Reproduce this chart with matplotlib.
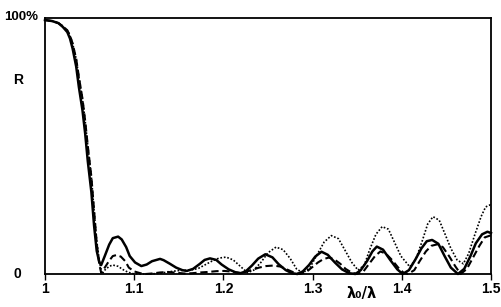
import matplotlib
matplotlib.use("Agg")
import matplotlib.pyplot as plt

plt.rcParams['font.family'] = ['Liberation Sans', 'DejaVu Sans']

# steep edge of the stop band (solid curve)
drop_x = [1.000, 1.008, 1.015, 1.020, 1.025, 1.028, 1.031, 1.035, 1.038,
          1.042, 1.045, 1.048, 1.052, 1.055]
drop_r = [99.2, 98.8, 98.0, 96.5, 94.5, 92.0, 88.0, 81.0, 73.0,
          64.0, 55.0, 44.0, 32.0, 19.0]
# the dashed and dotted edges sit a hair to the right
drop2_x = [1.000, 1.008, 1.015, 1.020, 1.025, 1.028, 1.031, 1.035, 1.038,
           1.042, 1.045, 1.048, 1.052, 1.055]
drop2_r = [99.2, 98.8, 98.0, 96.8, 95.2, 93.2, 90.0, 84.0, 77.0,
           68.5, 60.0, 50.0, 38.0, 25.0]

# solid curve, after the edge
solid_x = [1.058, 1.061, 1.063, 1.067, 1.072, 1.076, 1.082, 1.086, 1.091, 1.095,
           1.101, 1.108, 1.114, 1.120, 1.127, 1.129, 1.133, 1.140, 1.147, 1.154,
           1.159, 1.166, 1.173, 1.179, 1.185, 1.192, 1.198, 1.206, 1.214, 1.219,
           1.225, 1.232, 1.239, 1.247, 1.255, 1.262, 1.270, 1.277, 1.283, 1.289,
           1.296, 1.303, 1.310, 1.317, 1.325, 1.333, 1.341, 1.348, 1.354, 1.361,
           1.367, 1.372, 1.379, 1.387, 1.395, 1.401, 1.408, 1.415, 1.422, 1.428,
           1.434, 1.441, 1.448, 1.455, 1.463, 1.470, 1.477, 1.483, 1.490, 1.496,
           1.500]
solid_r = [9.0, 4.5, 3.5, 7.0, 11.5, 14.0, 14.6, 13.5, 10.5, 7.0,
           4.5, 3.1, 3.7, 5.0, 5.7, 5.9, 5.4, 4.0, 2.5, 1.5,
           1.2, 2.0, 3.8, 5.5, 6.1, 5.5, 3.7, 1.8, 0.6, 0.3,
           1.0, 3.3, 6.0, 7.7, 6.5, 3.8, 1.5, 0.3, 0.0, 1.0,
           3.5, 6.8, 8.7, 7.5, 4.5, 1.8, 0.3, 0.0, 1.5, 5.0,
           8.8, 10.7, 9.5, 5.5, 1.8, 0.0, 1.5, 5.5, 10.0, 12.8,
           13.3, 11.8, 7.0, 2.5, 0.0, 2.0, 7.0, 12.0, 15.5, 16.5,
           16.0]

# dashed curve
dashed_x = [1.058, 1.061, 1.063, 1.067, 1.072, 1.076, 1.080, 1.085, 1.090, 1.094,
            1.100, 1.107, 1.113, 1.120, 1.129, 1.138, 1.147, 1.156, 1.165, 1.174,
            1.183, 1.192, 1.201, 1.210, 1.219, 1.224, 1.232, 1.240, 1.248, 1.256,
            1.264, 1.271, 1.279, 1.286, 1.293, 1.299, 1.306, 1.312, 1.318, 1.324,
            1.331, 1.337, 1.344, 1.350, 1.357, 1.363, 1.370, 1.376, 1.382, 1.389,
            1.396, 1.402, 1.407, 1.414, 1.420, 1.427, 1.433, 1.440, 1.446, 1.453,
            1.460, 1.466, 1.473, 1.480, 1.487, 1.493, 1.499, 1.500]
dashed_r = [12.0, 3.5, 0.5, 2.5, 5.2, 7.0, 7.4, 6.8, 5.0, 2.5,
            1.0, 0.3, 0.0, 0.2, 0.6, 0.8, 0.5, 0.2, 0.3, 0.6,
            0.8, 1.1, 1.2, 0.9, 0.4, 0.7, 1.6, 2.5, 3.1, 3.3,
            2.9, 1.8, 0.6, 0.0, 0.8, 2.5, 4.5, 5.8, 6.4, 5.8,
            4.0, 2.0, 0.5, 0.0, 1.0, 3.8, 7.0, 8.8, 8.0, 5.5,
            2.5, 0.5, 0.0, 1.5, 5.0, 8.8, 11.0, 11.6, 10.5, 7.0,
            3.0, 0.0, 2.0, 6.5, 11.0, 14.3, 15.0, 15.0]

# dotted curve
dotted_x = [1.058, 1.061, 1.064, 1.067, 1.072, 1.076, 1.082, 1.087, 1.093, 1.099,
            1.107, 1.118, 1.129, 1.140, 1.151, 1.163, 1.172, 1.179, 1.187, 1.195,
            1.203, 1.211, 1.219, 1.227, 1.234, 1.242, 1.250, 1.259, 1.267, 1.275,
            1.282, 1.289, 1.297, 1.305, 1.313, 1.321, 1.329, 1.336, 1.344, 1.351,
            1.358, 1.364, 1.371, 1.378, 1.385, 1.391, 1.399, 1.409, 1.416, 1.423,
            1.429, 1.435, 1.442, 1.448, 1.455, 1.462, 1.469, 1.475, 1.482, 1.489,
            1.494, 1.499, 1.500]
dotted_r = [13.0, 5.0, 0.0, 1.5, 3.0, 3.5, 3.0, 1.8, 0.7, 0.1,
            0.0, 0.0, 0.3, 0.9, 1.4, 1.5, 2.2, 3.5, 5.0, 6.2,
            6.6, 5.5, 3.0, 0.5, 1.5, 4.5, 8.3, 10.5, 9.5, 6.0,
            2.0, 0.4, 2.5, 7.5, 12.5, 15.0, 13.8, 9.5, 4.5, 1.5,
            3.5, 9.5, 15.5, 18.5, 17.5, 13.0, 7.0, 2.8, 6.0, 13.0,
            19.5, 22.4, 21.0, 16.0, 10.0, 5.5, 4.0, 8.0, 15.5, 22.5,
            26.2, 27.0, 26.8]

tick_vals = [1.0, 1.1, 1.2, 1.3, 1.4, 1.5]
tick_text = ["1", "1.1", "1.2", "1.3", "1.4", "1.5"]

fig = plt.figure(figsize=(5.01, 3.07), dpi=100)
ax = fig.add_axes([0.0898, 0.1075, 0.8902, 0.8339])

ax.plot(drop2_x + dotted_x, drop2_r + dotted_r, color="black", lw=1.2,
        linestyle=(0, (1, 1.1)), clip_on=False)
ax.plot(drop2_x + dashed_x, drop2_r + dashed_r, color="black", lw=1.5,
        linestyle=(0, (3.5, 1.8)), clip_on=False)
ax.plot(drop_x + solid_x, drop_r + solid_r, color="black", lw=1.8,
        solid_joinstyle="round", clip_on=False)

ax.set_xlim(1.0, 1.5)
ax.set_ylim(0, 100)
for s in ax.spines.values():
    s.set_linewidth(1.3)
ax.set_xticks(tick_vals)
ax.set_xticklabels(tick_text, fontsize=10, fontweight="bold")
ax.tick_params(axis="x", direction="out", length=4, width=1, pad=2)
ax.set_yticks([])

fig.text(0.008, 0.945, "100%", fontsize=9.5, fontweight="bold", va="center", ha="left")
fig.text(0.036, 0.74, "R", fontsize=10, fontweight="bold", va="center", ha="center")
fig.text(0.034, 0.107, "0", fontsize=10, fontweight="bold", va="center", ha="center")
fig.text(0.722, 0.045, "λ₀/λ", fontsize=10.5, fontweight="bold", va="center", ha="center",
         family=["DejaVu Sans"])

fig.savefig("out.png", dpi=100)
